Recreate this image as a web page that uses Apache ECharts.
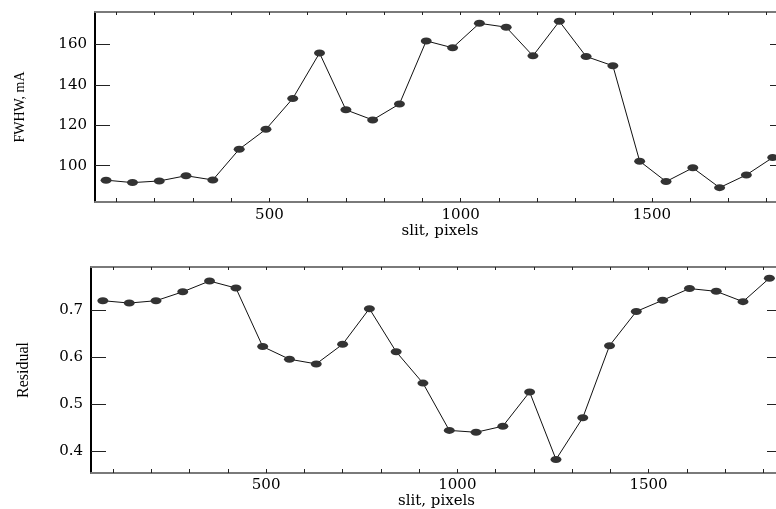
<!DOCTYPE html>
<html>
<head>
<meta charset="utf-8">
<script src="https://cdn.jsdelivr.net/npm/echarts@6/dist/echarts.min.js"></script>
<style>
html,body{margin:0;padding:0;background:#fff;}
#chart{width:776px;height:509px;}
</style>
</head>
<body>
<div id="chart"></div>
<script>
// slit positions (pixels)
const slitPixels = [73, 142, 212, 282, 352, 421, 491, 561, 631, 700, 770, 840, 910, 979, 1049, 1119, 1189, 1258, 1328, 1398, 1468, 1537, 1607, 1677, 1747, 1816];
// FWHW, mA
const fwhwValues = [92.8, 91.6, 92.4, 95.0, 92.9, 108.1, 118.0, 133.2, 155.7, 127.6, 122.6, 130.5, 161.7, 158.3, 170.4, 168.5, 154.3, 171.4, 154.0, 149.4, 102.2, 92.1, 98.9, 89.1, 95.4, 104.0];
// Residual
const residualValues = [0.721, 0.716, 0.721, 0.740, 0.763, 0.748, 0.623, 0.596, 0.586, 0.628, 0.704, 0.612, 0.545, 0.444, 0.440, 0.453, 0.526, 0.382, 0.471, 0.625, 0.698, 0.722, 0.747, 0.741, 0.719, 0.769];
// tick labels / tick positions
const xLabelTicks = [500, 1000, 1500];
const xMinorTicks = [100, 200, 300, 400, 500, 600, 700, 800, 900, 1000, 1100, 1200, 1300, 1400, 1500, 1600, 1700, 1800];
const fwhwTicks = [100, 120, 140, 160];
const residualTicks = [0.4, 0.5, 0.6, 0.7];

const tickFont = 'DejaVu Serif';
const titleFont = 'Liberation Serif';
const plain = v => String(v);

function pairs(xs, ys) { return xs.map((x, i) => [x, ys[i]]); }

function bottomX(grid, min, max, margin, nameGap) {
  return {
    type: 'value', gridIndex: grid, position: 'bottom', min: min, max: max,
    name: 'slit, pixels', nameLocation: 'middle', nameGap: nameGap,
    nameTextStyle: { fontFamily: tickFont, fontSize: 15, color: '#000' },
    axisLine: { show: true, lineStyle: { color: '#7a7a7a', width: 2 } },
    axisTick: { show: true, inside: true, length: 4, customValues: xMinorTicks, lineStyle: { color: '#222', width: 1 } },
    axisLabel: { show: true, customValues: xLabelTicks, formatter: plain, margin: margin, fontFamily: tickFont, fontSize: 15, color: '#000' },
    splitLine: { show: false }
  };
}
function topX(grid, min, max) {
  return {
    type: 'value', gridIndex: grid, position: 'top', min: min, max: max,
    axisLine: { show: true, lineStyle: { color: '#7a7a7a', width: 2 } },
    axisTick: { show: true, inside: true, length: 3, customValues: xMinorTicks, lineStyle: { color: '#222', width: 1 } },
    axisLabel: { show: false },
    splitLine: { show: false }
  };
}
function leftY(grid, min, max, ticks, name, nameGap, nameSize) {
  return {
    type: 'value', gridIndex: grid, position: 'left', min: min, max: max,
    name: name, nameLocation: 'middle', nameGap: nameGap, nameRotate: 90,
    nameTextStyle: { fontFamily: titleFont, fontSize: nameSize, color: '#000' },
    axisLine: { show: true, lineStyle: { color: '#000', width: 2 } },
    axisTick: { show: true, inside: true, length: 15, customValues: ticks, lineStyle: { color: '#222', width: 1 } },
    axisLabel: { show: true, customValues: ticks, formatter: plain, margin: 8, fontFamily: tickFont, fontSize: 15, color: '#000' },
    splitLine: { show: false }
  };
}
function rightY(grid, min, max, ticks) {
  return {
    type: 'value', gridIndex: grid, position: 'right', min: min, max: max,
    axisLine: { show: true, lineStyle: { color: '#000', width: 2 } },
    axisTick: { show: true, inside: true, length: 15, customValues: ticks, lineStyle: { color: '#222', width: 1 } },
    axisLabel: { show: false },
    splitLine: { show: false }
  };
}

const chart = echarts.init(document.getElementById('chart'), null, { renderer: 'canvas' });
chart.setOption({
  animation: false,
  backgroundColor: '#fff',
  grid: [
    { left: 95, top: 12, width: 690, height: 190, containLabel: false, outerBoundsMode: 'none' },
    { left: 91, top: 267, width: 691, height: 206, containLabel: false, outerBoundsMode: 'none' }
  ],
  xAxis: [
    bottomX(0, 44, 1848, 6, 18),
    topX(0, 44, 1848),
    bottomX(1, 42, 1849, 5, 18),
    topX(1, 42, 1849)
  ],
  yAxis: [
    leftY(0, 82, 176, fwhwTicks, 'FWHW, mA', 68, 14),
    rightY(0, 82, 176, fwhwTicks),
    leftY(1, 0.353, 0.793, residualTicks, 'Residual', 59, 16),
    rightY(1, 0.353, 0.793, residualTicks)
  ],
  series: [
    {
      type: 'line', xAxisIndex: 0, yAxisIndex: 0,
      data: pairs(slitPixels, fwhwValues),
      symbol: 'circle', symbolSize: [11, 7], showAllSymbol: true,
      lineStyle: { color: '#111', width: 1 },
      itemStyle: { color: '#333', borderWidth: 0 },
      emphasis: { disabled: true }
    },
    {
      type: 'line', xAxisIndex: 2, yAxisIndex: 2,
      data: pairs(slitPixels, residualValues),
      symbol: 'circle', symbolSize: [11, 7], showAllSymbol: true,
      lineStyle: { color: '#111', width: 1 },
      itemStyle: { color: '#333', borderWidth: 0 },
      emphasis: { disabled: true }
    }
  ]
});
</script>
</body>
</html>
